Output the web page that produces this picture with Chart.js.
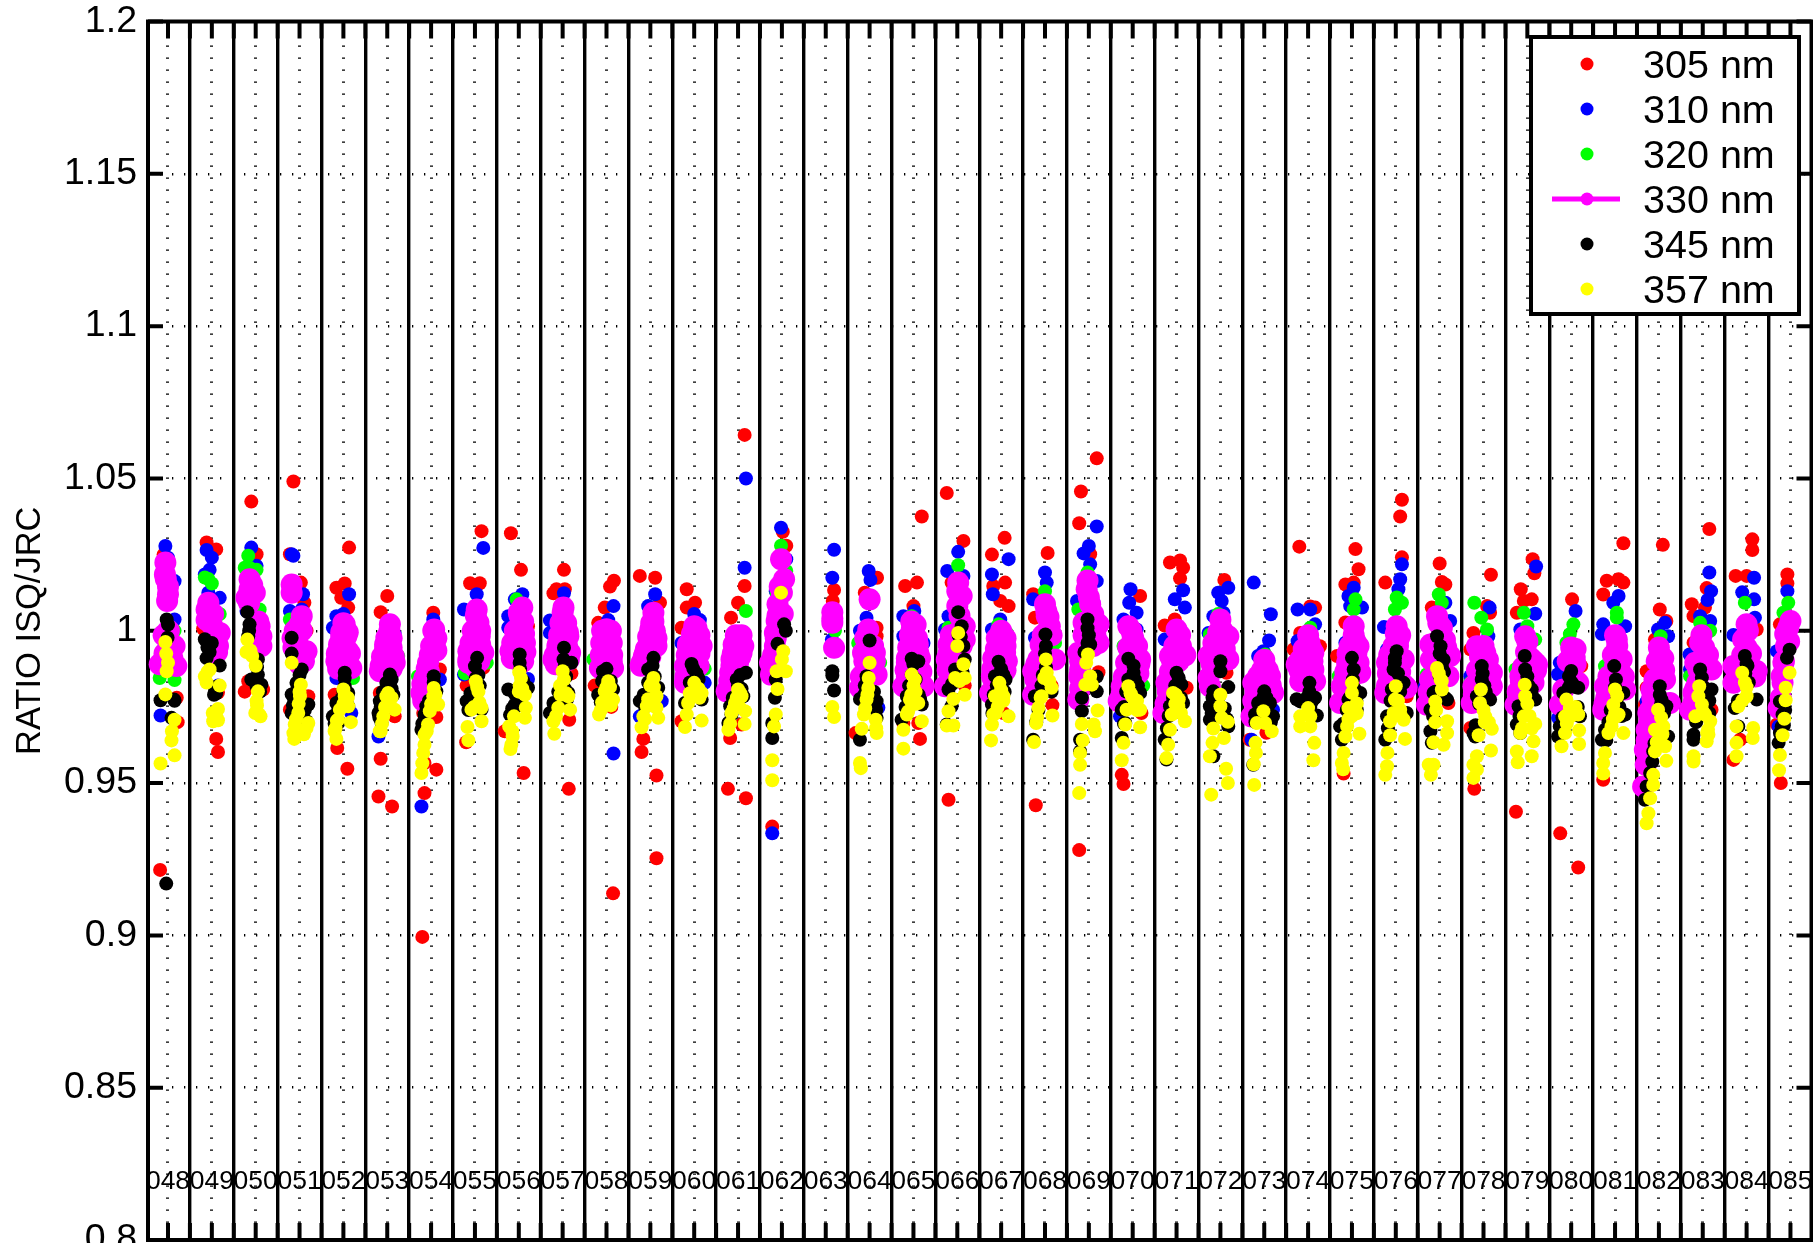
<!DOCTYPE html>
<html>
<head>
<meta charset="utf-8">
<title>RATIO ISQ/JRC</title>
<script src="https://cdn.jsdelivr.net/npm/chart.js@4"></script>
<style>
  html, body { margin: 0; padding: 0; background: #fff; overflow: hidden; }
  canvas { display: block; }
</style>
</head>
<body>
<canvas id="chart" width="1813" height="1243"></canvas>
<script>
// Campaign labels along the x axis
const campaigns = ['048','049','050','051','052','053','054','055','056','057','058','059','060','061','062','063','064','065','066','067','068','069','070','071','072','073','074','075','076','077','078','079','080','081','082','083','084','085'];
const yTicks = [0.8, 0.85, 0.9, 0.95, 1, 1.05, 1.1, 1.15, 1.2];
const seriesLabels = ['305 nm', '310 nm', '320 nm', '330 nm', '345 nm', '357 nm'];

// One row per campaign: campaign number, then pairs of (offset from campaign, ratio)
const v305 = [
  [48, -.18,.9215, .2,.978, .22,.970, -.1,1.025],
  [49, -.12,1.029, .1,1.0267, -.2,1.0007, .1,.9645, .14,.9602, .14,.9797],
  [50, -.1,1.0424, .02,1.0251, -.17,.9834, -.25,.98, .17,.9807],
  [51, -.14,1.049, -.22,1.0251, .03,1.0158, .11,1.0092, .16,1.0, -.22,.9741, .2,.9785],
  [52, .13,1.0273, -.16,1.0141, .03,1.0155, -.05,1.0108, .11,1.0076, -.2,.979, -.14,.9615, .09,.9547],
  [53, 0,1.0114, -.15,1.0061, -.17,.9796, .17,.9719, -.15,.958, -.2,.9456, .11,.9423],
  [54, .05,1.0059, .2,.9873, -.18,.973, .12,.9717, -.15,.9566, .12,.9544, -.15,.9467, -.2,.8995],
  [55, -.11,1.0156, .11,1.0156, .15,1.0327, .19,.9878, -.19,.982, -.2,.9634],
  [56, -.18,1.032, .05,1.02, .21,1.0015, .11,.9533, -.32,.967],
  [57, .03,1.02, -.21,1.0123, .05,1.0136, .14,.9481, .15,.9708, -.14,1.0136, .2,.986],
  [58, .17,1.0164, .08,1.0145, -.04,1.0076, -.19,1.0026, -.27,.982, .11,.975, .15,.9138],
  [59, -.24,1.018, .11,1.0174, .22,1.0092, -.16,.9645, -.2,.9602, .14,.9525, .14,.9253],
  [60, -.17,1.0136, .02,1.0092, -.17,1.0076, -.29,1.001, -.29,.9703],
  [61, .15,1.0643, .15,1.0147, 0,1.0092, -.16,1.0043, -.1,.9988, -.23,.9481, .18,.945, -.18,.9648, .08,.9692],
  [62, .02,1.0325, .1,1.0279, -.22,.9357],
  [63, .19,1.0134, .16,1.0098],
  [64, .17,1.0174, -.11,1.0125, .16,1.001, .16,.9982, -.18,.9873, -.32,.9664],
  [65, -.19,1.0147, .08,1.0158, 0,1.0081, .11,.9697, .15,.9645, -.23,.9697, .19,1.0375],
  [66, -.24,1.0452, .14,1.0295, -.2,.9445, -.13,1.0158, .17,.982],
  [67, .08,1.0305, -.21,1.025, .09,1.0158, -.18,1.0147, -.02,1.0098, .17,1.0081, .05,.973],
  [68, .06,1.0255, -.27,1.012, -.23,1.0043, .15,.982, .17,.9756, -.21,.9427],
  [69, .18,1.0566, -.18,1.0457, -.22,1.0353, .03,1.0251, .22,.9864, -.22,.928],
  [70, .17,1.0114, .2,.973, -.25,.9527, -.21,.9497],
  [71, -.15,1.0224, .08,1.0231, .15,1.0207, .08,1.0172, -.27,1.0017, -.04,1.0037, .23,.9813],
  [72, .09,1.0167, .14,.9862],
  [73, .05,.9665, -.33,.9642],
  [74, -.2,1.0276, .05,1.008, .16,1.0076, -.18,.9993, -.33,.9939, .27,.9949],
  [75, .08,1.0268, .15,1.0202, -.15,1.0152, .04,1.0158, -.15,1.0027, -.34,.9917, -.19,.9531],
  [76, .14,1.043, .1,1.0375, .14,1.0241, -.24,1.0158, .25,.9785],
  [77, 0,1.0221, .05,1.016, .13,1.0152, -.18,1.0076, .2,.9763],
  [78, .17,1.0184, .08,1.0081, .15,1.0059, -.23,.9993, -.3,.9939, -.3,.9681, -.21,.9481],
  [79, .12,1.0235, .16,1.0189, -.15,1.0136, .1,1.0103, -.24,1.0059, -.08,1.0098, -.26,.9406],
  [80, .02,1.0103, .23,.9884, -.25,.9335, .16,.9223],
  [81, .19,1.0287, -.19,1.0164, .08,1.0169, .19,1.0158, -.27,1.0119, -.27,.9511],
  [82, .09,1.0282, .02,1.007, .17,1.0032, -.09,.9971, -.28,.9867, -.28,.9813, -.32,.9757],
  [83, .15,1.0334, .09,1.014, -.25,1.0087, -.21,1.0048, .05,1.0076, -.21,.9961, .2,.9741],
  [84, .13,1.03, .13,1.0265, -.25,1.018, 0,1.018, .23,1.0004, -.3,.9576, -.15,.9642],
  [85, -.07,1.0185, -.07,1.0155, -.24,1.0021, -.31,.9692, -.22,.95]
];
const v310 = [
  [48, -.06,1.0278, 0,1.024, .15,1.0163, .15,1.0037, -.17,.9722],
  [49, -.12,1.0265, 0,1.024, -.05,1.02, -.16,1.0185, .18,1.0108, -.08,1.0125, .14,.982],
  [50, -.1,1.0273, .02,1.0213, -.21,1.0065],
  [51, -.18,1.0251, -.14,1.0246, .08,1.012, .05,1.007, -.22,1.0065],
  [52, .13,1.012, -.16,1.0048, 0,1.0055, -.24,1.001, -.16,.9845, .18,.973],
  [53, -.2,.9653, .17,.9988],
  [54, .05,1.0037, -.22,.9423, .2,.984],
  [55, .19,1.0272, .04,1.012, -.25,1.007, -.25,.9856],
  [56, .08,1.012, -.09,1.0103, -.24,1.0048, -.24,1.001, .21,.9842],
  [57, .03,1.0123, -.29,1.0034, -.29,.9993],
  [58, .16,1.0081, .04,1.0035, .16,.9597],
  [59, .11,1.012, -.05,1.0081, .26,.9769, -.24,.9719],
  [60, 0,1.0055, .13,1.0035, .24,.9829, -.29,.996],
  [61, .18,1.05, .15,1.0207],
  [62, -.02,1.0338, .1,1.0235, -.14,1.013, -.22,.9335],
  [63, .19,1.0266, .15,1.0174, .14,.9971],
  [64, -.02,1.0196, .02,1.0167, -.07,1.0043, -.22,1.0, .2,.9747],
  [65, -.23,1.0048, .02,1.0065, -.23,.9982, .23,.996],
  [66, .02,1.0259, -.23,1.0196, -.2,1.0048, -.28,1.0004, .14,1.018],
  [67, -.21,1.0185, .17,1.0235, -.19,1.012, -.02,1.0037, -.21,1.0004],
  [68, 0,1.0191, .04,1.0158, -.27,1.0103, -.23,.9977],
  [69, .18,1.0342, 0,1.0278, -.12,1.0254, .03,1.0218, .18,1.0163, -.27,1.0098, .11,1.0092],
  [70, -.05,1.0136, -.08,1.0092, .09,1.0059, -.21,1.0037, -.29,.9719, .09,1.0004],
  [71, .15,1.0133, -.04,1.0103, .19,1.0076, -.27,.9971],
  [72, .18,1.0141, -.05,1.0125, .03,1.0098, -.16,1.0048, .07,1.0059, -.27,.9993],
  [73, -.24,1.0158, .15,1.0054, .11,.9968, -.02,.9933, -.14,.9917, -.29,.9642, .2,.9741],
  [74, -.24,1.007, .05,1.007, .16,1.0021, -.24,.9966],
  [75, .04,1.0141, -.04,1.0081, .23,1.0076, -.15,.9961, -.08,1.0114],
  [76, .14,1.0218, .1,1.0169, .06,1.0136, -.27,1.0012, -.2,.9939],
  [77, .13,1.0092, .24,1.0032, -.1,1.0048, -.33,.9818],
  [78, .14,1.0076, .11,.9982, -.3,.9851],
  [79, .2,1.0211, .18,1.0056, -.16,1.0004],
  [80, .1,1.0065, -.26,.9895, -.3,.9857, -.3,.9714],
  [81, .08,1.0114, -.04,1.0092, -.27,1.0021, -.3,.9989, .23,1.0015],
  [82, .14,1.0026, -.02,1.0004, .21,.9982, -.28,.9768],
  [83, .15,1.0191, .19,1.013, .11,1.0101, -.06,1.0048, .17,1.0032, -.3,.9922, -.29,.9873],
  [84, .17,1.0174, -.1,1.0126, .17,1.0103, .19,1.0043, -.3,.9986],
  [85, -.07,1.013, -.31,.9933, -.27,.9686]
];
const v320 = [
  [48, -.19,.9845, .15,.9838, .15,1.0],
  [49, -.08,1.017, 0,1.0155, .18,1.0055, -.16,1.0175],
  [50, -.17,1.0246, -.14,1.0207, -.25,1.0207, .09,1.007, .02,1.02],
  [51, -.22,1.0037, .05,1.0015],
  [52, .22,.9845],
  [53, .25,.9917],
  [54, -.3,.985],
  [55, .27,.9895, -.23,.986],
  [56, -.05,1.0103],
  [58, -.3,.9906],
  [60, .24,.9875],
  [61, .18,1.0065],
  [62, -.02,1.0279, .1,1.0196, -.12,1.0125],
  [63, .21,1.0],
  [64, -.26,.996, .24,.9895],
  [65, -.04,1.0048],
  [66, .02,1.0215, -.2,1.001],
  [67, -.06,1.0021, .13,.9993],
  [68, 0,1.013, .23,.996],
  [69, -.03,1.0191, -.24,1.007, -.27,.9813],
  [70, -.21,.995, .24,.982],
  [72, -.05,1.0055, -.24,.9988],
  [73, .02,.9922],
  [74, .05,1.001],
  [75, .08,1.0103, .04,1.007, -.3,.9851],
  [76, .02,1.0109, -.02,1.007, .14,1.0092],
  [77, -.02,1.0119, .05,1.0092, .2,.9949, -.29,.9857],
  [78, -.21,1.0092, -.05,1.0043, .08,1.0004, -.3,.9829],
  [79, -.08,1.0059, 0,1.0015, .18,.9971, -.27,.9873],
  [80, .05,1.0021, -.03,.9989, -.11,.9961],
  [81, .04,1.0059, .04,1.0043, -.23,.9884],
  [82, .04,.9982, -.32,.9686],
  [83, -.06,1.0026, .17,1.0, -.29,.9851],
  [84, -.04,1.0092, .15,.9933, -.3,.9884],
  [85, -.05,1.0092, -.16,1.0059]
];
const v330 = [
  [48, -.06,1.0224, -.07,1.0185, 0,1.012, -.02,1.0098, 0,1.0, .15,.995, -.19,.989, .19,.9884, .02,.992, -.05,1.017, 0,1.0145, .02,1.0, -.1,.9985, -.08,.9925, .1,.991],
  [49, -.08,1.0092, .03,1.0055, .18,.9993, .14,.995, -.12,1.007, 0,1.002, -.12,1.0035, .1,.9985, .05,.9925, .12,.993],
  [50, -.14,1.0169, -.14,1.0136, -.14,1.0108, -.21,1.0108, -.02,1.0125, .09,1.0015, .13,.995, .13,.9982, -.15,1.009, -.08,1.015, .1,.998, .06,1.003],
  [51, -.18,1.0152, -.18,1.0125, .05,1.0048, -.11,1.0, -.14,.9944, .16,.9933, .05,.9917, 0,1.002, .05,1.0, -.05,.9965, .1,.99, 0,.989, -.16,.9975],
  [52, .03,1.0021, .07,.9982, .03,.9938, -.16,.99, .18,.9878, -.05,.998, 0,1.0025, -.05,.9995, .1,.9995, -.1,.9955, .1,.9935, -.15,.9925, .15,.9925, -.05,.9895, .07,.9895, -.12,.9875, .12,.9875],
  [53, .06,1.0021, -.02,.9977, -.05,.9938, -.09,.9895, .17,.9895, -.17,.9867, -.02,.9917, .05,1.0, .1,.9975, -.05,.9955, .1,.9945, -.12,.9915, .15,.9915, -.15,.9885, .05,.9885, 0,.9945, -.08,.9875, .1,.9875],
  [54, .07,1.0004, .08,.995, -.07,.9895, -.15,.9845, -.22,.9796, -.18,.977, .05,1.0, .12,.9975, 0,.995, .12,.9935, -.03,.992, -.1,.9875, -.2,.9825, -.05,.9865, -.18,.9785],
  [55, .04,1.007, .08,1.0026, .11,.9982, -.15,.9933, .19,.9928, -.15,.9895, .02,1.005, -.05,1.0, .12,1.0, 0,.9975, -.1,.996, .12,.9955, -.15,.9905, .1,.99, 0,.988],
  [56, .08,1.0076, .02,1.0048, .06,1.001, .14,.996, -.19,.9933, .02,.996, -.09,1.0, 0,1.006, .1,1.003, -.05,1.0, .12,.999, -.15,.996, .05,.996, -.12,.9925, .15,.993, -.16,.991, .1,.99, .05,.9895],
  [57, .02,1.0076, .03,1.0026, .13,.9982, -.21,.9906, .17,.9928, -.1,.996, 0,1.006, -.05,1.0025, .08,1.0025, -.08,.9985, .12,.9995, -.12,.995, .1,.995, -.18,.992, 0,.9925, .14,.9905, -.16,.989],
  [58, -.02,.9977, 0,.9938, -.15,.9878, .15,.9878, -.04,.995, -.1,1.0, .1,1.0, 0,1.0005, -.12,.996, .12,.996, -.13,.992, .13,.992, -.1,.988, .12,.99],
  [59, .07,1.0059, 0,1.0004, -.05,.995, -.2,.9895, .14,.995, -.12,.9928, .07,1.003, .02,1.0025, .1,1.0, -.05,.998, .12,.997, -.1,.994, 0,.9915, -.15,.9915, .14,.9975, -.22,.9885],
  [60, 0,1.0015, .05,.9971, .17,.995, -.21,.9884, .02,.9917, -.21,.9829, -.14,.995, -.05,.999, .05,1.001, .12,.9985, -.14,.9955, .12,.9925, -.17,.992, 0,.9885, -.2,.985, .1,.9885],
  [61, 0,.9961, .08,.9928, -.15,.9906, -.18,.9862, -.26,.9801, .05,.995, -.05,.9985, .08,.9985, .12,.995, -.1,.9955, -.12,.9925, .05,.9915, -.15,.9885, -.2,.9835, 0,.9895],
  [62, -.02,1.0235, .05,1.0169, 0,1.0125, -.1,1.0087, -.12,1.0032, -.16,.9993, -.16,.995, -.27,.9895, -.25,.9856, -.05,1.0145, -.1,1.005, -.14,.9975, -.2,.992, -.2,.987, .02,1.0055],
  [63, .15,1.0061, .15,1.0026, .19,.9944, .15,1.004],
  [64, 0,1.0103, -.03,1.0004, -.15,.9928, .12,.9928, .16,.9856, -.22,.9813, -.1,.9975, .08,.995, -.12,.99, .12,.99, .05,.9855, -.2,.985],
  [65, -.04,1.0004, .04,.996, .11,.9928, -.15,.9895, -.23,.9818, .23,.9818, 0,.9895, -.15,.985, -.05,1.003, .05,1.002, -.08,.9985, .08,.9975, -.12,.9945, .1,.9955, -.15,.991, .15,.991, -.18,.987, .18,.9865, -.1,.9845, .12,.985],
  [66, .02,1.0158, .1,1.0114, .17,1.0015, .17,.9971, -.2,.9955, -.24,.9906, -.28,.9818, 0,1.0081, 0,1.013, .05,1.005, .05,1.0, -.2,.9925, -.15,.9985, .1,.995, -.22,.987],
  [67, -.02,.9977, -.06,.9938, .09,.9928, -.21,.9851, -.25,.9796, -.14,.9895, 0,1.0, -.1,.9975, .1,.9975, .1,.995, -.12,.994, -.18,.991, .13,.99, -.2,.9875, .05,.988, .1,.987, -.18,.984, 0,.985],
  [68, 0,1.0087, .11,1.0015, .04,1.0048, -.15,.9906, -.27,.9867, -.27,.979, .23,.9906, .03,1.0065, .08,1.0045, .05,1.0, -.05,.9985, -.1,.9955, .15,.9985, -.2,.989, -.1,.985, -.22,.984],
  [69, -.05,1.0136, .03,1.0087, .22,1.0021, -.12,1.0026, .22,.996, -.24,.9928, -.2,.9873, -.24,.9774, -.03,1.0165, 0,1.011, .1,1.0055, .15,.9985, -.12,.9985, -.2,.99, .1,.995, -.22,.985, -.2,.981],
  [70, -.1,1.0015, 0,.9982, .05,.995, -.02,.9906, -.25,.9818, -.32,.9769, .17,.9906, -.03,1.0, .02,.997, .1,.995, -.1,.9945, -.15,.9895, .15,.989, -.2,.985, -.25,.9795, .13,.986],
  [71, 0,1.0004, .04,.996, .15,.9917, -.15,.9917, -.23,.9829, -.3,.973, -.19,.9774, .08,.9985, -.05,.995, .1,.995, -.1,.99, .05,.99, -.15,.9865, -.2,.98, -.15,.9815, -.25,.976, .2,.992],
  [72, 0,1.0037, .18,.9982, -.16,.996, .18,.9906, -.27,.9917, -.27,.9845, -.24,.9818, 0,.995, .05,1.0, -.05,.9995, .1,.997, -.15,.993, .1,.994, -.2,.989],
  [73, .02,.9884, -.14,.9851, .13,.9851, .2,.9796, -.25,.9829, -.29,.9719, .05,.982, 0,.9905, -.05,.987, .08,.987, -.15,.983, .15,.982, -.05,.9815, -.2,.98, .1,.979, -.25,.977],
  [74, .03,.9961, .12,.9928, -.26,.9889, .12,.9873, -.18,.9834, .16,.9834, 0,.9985, .07,.994, -.1,.994, .05,.9905, -.18,.9905, .1,.99, -.2,.987, .05,.9855],
  [75, .04,1.0015, .15,.9949, .19,.9862, -.11,.9895, -.23,.9818, -.27,.9763, 0,.9917, .04,.9985, .08,.9965, -.05,.995, .1,.9925, -.1,.9925, .15,.9895, -.15,.9865, -.18,.9835, .1,.986],
  [76, .02,1.0015, .06,.9971, -.2,.9895, .18,.9906, -.24,.9796, .25,.9813, -.13,.9873, 0,.999, .1,.9985, -.05,.995, .05,.995, -.15,.992, -.18,.986, -.2,.982, .1,.9865, .2,.982, -.1,.989],
  [77, -.06,1.0048, .05,1.001, -.21,.9955, .24,.9917, .2,.9851, -.29,.9757, -.03,1.0025, .03,.9975, -.1,.996, -.2,.9905, .12,.997, .15,.9945, -.25,.98, -.22,.984],
  [78, .04,.9928, -.15,.9949, .19,.9862, .19,.9818, -.27,.9763, -.23,.9818, 0,.995, .1,.9905, -.08,.9915, .05,.988, -.15,.987, -.2,.982, .15,.9845, -.22,.979],
  [79, -.05,.9982, .22,.9889, -.16,.9851, .14,.9829, -.27,.9757, 0,.9862, 0,.9965, -.03,.993, .08,.991, .15,.99, -.1,.988, -.15,.9835, .2,.987, -.22,.98],
  [80, .01,.9922, .08,.9911, .16,.9829, -.18,.9807, -.26,.9757, 0,.9945, .1,.994, -.08,.99, .1,.989],
  [81, .04,.9971, .15,.9906, .23,.9807, -.23,.9818, -.27,.9741, 0,.9884, 0,.9985, .05,.995, -.05,.992, .1,.987, -.15,.985, .15,.983, -.2,.978, .05,.99, .2,.985, -.24,.976],
  [82, .02,.9922, .06,.9873, .14,.984, -.17,.9807, -.28,.9675, -.32,.9609, -.36,.9489, .25,.9763, -.24,.973, 0,.9945, .1,.991, -.05,.99, -.1,.984, .12,.987, -.15,.978, -.2,.974, -.22,.97, -.28,.964, -.3,.956],
  [83, -.06,.9961, .05,.9933, .2,.9873, -.17,.9895, -.21,.9796, -.29,.9741, -.03,.9985, .03,.9945, .12,.992, -.1,.987, -.12,.983, 0,.99, -.2,.977, -.17,.981],
  [84, 0,1.0021, -.08,.9971, .15,.9873, -.3,.9884, .23,.9868, -.3,.9829, .03,1.0, 0,.9945, .1,.9925, -.1,.992, -.2,.987, -.25,.984, .2,.985],
  [85, 0,1.0032, -.12,.9989, -.2,.9851, -.27,.9746, -.16,.9895, -.05,1.001, -.1,.995, -.15,.99, -.18,.983, -.22,.978, -.03,.9965]
];
const v345 = [
  [48, -.04,.917, -.03,1.0037, 0,1.002, -.01,.9977, -.17,.9772, .14,.9774, .08,.9714, .15,.977],
  [49, -.16,.9972, 0,.996, -.05,.993, .18,.9886, .07,.98, .1,.9795, -.1,.9945, -.12,.991, .08,.9815, .05,.979],
  [50, -.19,1.0061, -.14,1.0021, -.17,.9982, .05,.9906, .05,.9856, .02,.9818, .13,.9823, -.1,.984, -.15,1.0, .03,.988, .05,.983, .1,.98],
  [51, -.18,.9977, -.18,.9925, .05,.9873, -.07,.9829, -.18,.9791, .2,.9758, -.18,.973, .16,.9703, 0,.9855, -.05,.981, -.12,.977, .12,.974, -.15,.9755],
  [52, .03,.9862, .03,.9818, .11,.9796, .11,.9752, -.16,.9763, -.24,.9719, -.12,.9697, .03,.9845, .05,.978, -.05,.9775, -.12,.974, -.2,.9695, 0,.98],
  [53, .06,.9856, -.02,.9829, .14,.979, -.17,.9769, -.2,.973, -.13,.9697, .1,.984, .05,.983, .1,.981, -.1,.98, -.12,.977, -.15,.975, -.18,.9715],
  [54, .06,.9851, .12,.9801, -.11,.9752, -.22,.9675, -.15,.9708, .06,.983, .08,.977, -.05,.977, -.15,.9725, -.2,.9695, 0,.9755],
  [55, .05,.9911, 0,.9884, .11,.982, -.19,.9769, .15,.9741, .08,.9855, .02,.9845, -.1,.9795, -.15,.974, .05,.98],
  [56, .02,.9922, .02,.9895, .21,.9813, -.24,.9807, -.09,.9758, -.2,.9724, .1,.982, .03,.9875, .1,.9835, -.1,.9795, -.15,.9745, 0,.9755],
  [57, .03,.9944, .02,.9906, .13,.9796, -.21,.9763, -.29,.973, .2,.9895, .05,.9885, .08,.985, -.1,.98, -.15,.9745, .1,.9775, .05,.981],
  [58, -.08,.9867, .15,.9807, -.19,.979, .08,.9829, 0,.9875, .1,.9835, -.1,.9835, .05,.9805, -.13,.9765],
  [59, .07,.9911, -.05,.9873, .18,.9813, -.24,.9769, -.08,.9785, .05,.9885, .1,.985, -.05,.983, -.15,.979, -.12,.975, .1,.9795],
  [60, -.06,.9891, .09,.9845, .17,.9774, -.21,.9763, 0,.982, -.02,.9875, .05,.986, .1,.984, -.1,.983, .1,.9805, -.15,.9765],
  [61, .18,.9862, -.03,.984, -.18,.9752, -.22,.9697, .12,.9785, .05,.9855, 0,.982, -.12,.978, -.15,.9725, .08,.981],
  [62, .05,1.0021, .09,1.0, -.1,.9957, -.14,.984, -.16,.978, -.22,.9697, -.22,.9648],
  [63, .15,.9867, .15,.9853, .19,.9804],
  [64, 0,.9968, -.07,.9851, -.11,.982, .16,.9769, -.22,.9776, .16,.9714, -.22,.9642, -.05,.984, -.12,.979, .1,.98, .15,.974],
  [65, -.04,.9908, .11,.99, -.04,.9856, .19,.9758, -.27,.9708, -.15,.9785, 0,.989, .05,.984, .12,.979, -.1,.982, -.18,.975, .15,.9775],
  [66, .02,1.0061, .1,1.0015, .14,.995, -.05,.9873, -.2,.9807, .17,.9906, -.24,.9692, -.13,.9752, .03,.9985, .08,.998, -.05,.984, -.12,.9825, .12,.9865],
  [67, -.06,.9898, -.14,.9851, -.21,.9758, .05,.9856, 0,.9875, .1,.984, .08,.98, -.1,.982, -.17,.979, -.2,.973, -.1,.977],
  [68, .01,.9988, .02,.995, -.08,.982, -.23,.9785, .15,.98, -.27,.9642, 0,.9925, .02,.988, 0,.984, -.05,.9855, -.15,.974, -.2,.97],
  [69, -.03,1.0037, -.03,1.0008, .03,.9955, -.16,.978, .18,.9801, -.16,.9736, -.2,.9642, -.2,.9604, 0,.9985, -.03,.996, -.1,.993, .18,.985],
  [70, -.1,.9908, .02,.9862, .17,.9796, -.25,.9741, -.25,.9648, -.17,.9697, .02,.9885, .05,.984, .12,.982, -.1,.984, -.15,.98, -.2,.975, -.2,.9695],
  [71, 0,.9862, .11,.9823, .15,.9763, -.15,.9752, -.27,.9642, -.23,.9577, .05,.9845, -.03,.982, -.08,.978, .1,.978, -.18,.972, -.22,.968],
  [72, 0,.99, 0,.9867, .18,.9815, -.16,.9801, -.24,.9752, -.24,.9708, .18,.9686, -.16,.9588, -.03,.9785, -.18,.978, -.2,.973, .15,.971, -.1,.972, .1,.9745],
  [73, 0,.9801, -.14,.9763, .13,.9763, -.21,.9725, -.25,.956, .2,.9719, .05,.978, -.02,.978, .08,.975, -.12,.974, -.17,.972, -.2,.97, .15,.97],
  [74, .03,.9829, -.18,.9768, .2,.9722, .16,.978, -.26,.9775, .03,.98, -.03,.978, .1,.977, -.1,.977, .05,.975],
  [75, 0,.9911, .04,.9873, .19,.9796, -.27,.9686, -.23,.9642, -.08,.9774, .11,.9741, .02,.984, .06,.981, .1,.977, -.05,.978, -.12,.974, -.2,.9695],
  [76, .02,.9933, -.02,.9895, -.05,.9873, .18,.9829, -.09,.9807, -.2,.9719, -.24,.9642, .25,.973, -.02,.991, .05,.986, .12,.983, .1,.98, -.12,.977, -.18,.968],
  [77, -.06,.9982, .02,.9949, .09,.9905, -.14,.9796, .17,.9774, -.21,.967, -.18,.9632, -.21,.9741, 0,.9925, .05,.988, .1,.9865, 0,.985, .12,.978, -.15,.972, -.1,.98],
  [78, -.04,.9884, -.04,.984, .15,.9774, -.15,.9785, -.19,.9653, -.23,.9664, -.02,.986, .02,.982, .05,.98, .1,.978, -.1,.976, -.18,.969],
  [79, -.06,.9917, -.05,.9873, .18,.9774, -.24,.9692, .1,.9807, -.2,.9752, -.16,.9664, 0,.985, .03,.982, .1,.979, -.1,.975, -.18,.972, 0,.978],
  [80, 0,.9868, .01,.983, .16,.9813, -.26,.9686, -.3,.9653, -.18,.9796, .2,.9719, -.05,.985, .1,.9815, -.05,.9815, .15,.975, -.2,.9715],
  [81, -.02,.9884, .02,.984, .19,.9796, -.23,.9675, -.3,.9642, .23,.9725, 0,.9815, .05,.978, .1,.975, -.1,.974, -.15,.97, .15,.972, -.2,.964],
  [82, .02,.9818, .06,.9774, .17,.9752, -.13,.9604, -.2,.9533, -.28,.9489, -.32,.9445, .21,.9653, .02,.979, .05,.976, .12,.973, -.1,.963, -.15,.957],
  [83, -.06,.9873, -.02,.9846, .2,.9807, -.21,.9659, -.14,.9708, -.21,.9642, .02,.9815, .1,.98, .15,.977, .15,.973, -.15,.97],
  [84, -.04,.9917, 0,.989, .23,.9774, -.27,.9746, -.19,.9686, .02,.9885, -.03,.986, .05,.983, -.2,.977],
  [85, -.02,.9938, -.08,.9911, -.24,.9768, -.18,.9725, -.24,.9664, -.27,.9632, -.12,.974, -.15,.969, -.2,.9685]
];
const v357 = [
  [48, -.06,.9963, -.04,.9925, 0,.9895, -.03,.9867, -.06,.9791, .15,.9708, .09,.967, .08,.964, .15,.9591, -.17,.9564],
  [49, -.05,.9873, -.16,.985, .18,.982, .14,.9743, .03,.9703, .14,.9706, -.1,.9865, -.12,.983, .02,.973, .1,.972],
  [50, -.19,.9971, -.21,.993, -.08,.9917, .05,.9801, .02,.9769, -.01,.973, .11,.9719, -.12,.9935, 0,.9885, .03,.9755, .08,.9725],
  [51, -.18,.9895, .03,.9823, .01,.9785, -.03,.973, -.11,.9692, -.14,.9664, -.12,.9645, .16,.9681, .2,.9697, 0,.98, -.02,.976, -.08,.971, .1,.966],
  [52, 0,.9807, .07,.9774, .11,.9752, -.08,.9741, .17,.97, -.2,.967, -.16,.9645, -.12,.9708, .03,.9785, .1,.978, 0,.976, -.15,.9705, -.18,.968],
  [53, .02,.9796, .17,.9741, -.09,.9719, -.17,.967, -.02,.9785, .05,.9775, .1,.978, -.12,.9695, -.15,.967, -.05,.975],
  [54, .06,.9812, .16,.9758, -.03,.9736, -.07,.9692, -.15,.9659, -.15,.9626, -.18,.9599, -.22,.9533, .05,.9785, .1,.979, 0,.976, -.1,.967, -.2,.9565],
  [55, .02,.9834, .08,.98, -.08,.9741, .15,.9747, .15,.9703, -.17,.9684, -.15,.964, .05,.9815, .1,.9765, -.02,.975],
  [56, .01,.9864, .02,.982, .14,.979, .16,.9747, .14,.9714, -.11,.9719, -.22,.9686, -.14,.9653, -.17,.9626, -.19,.9612, .05,.9845, .08,.981, -.15,.967, 0,.98],
  [57, 0,.9867, -.06,.982, .13,.9785, -.1,.9747, .17,.9741, -.21,.9703, -.19,.9662, .03,.984, .08,.9795, -.05,.979, -.15,.972],
  [58, .04,.9834, -.04,.9801, .15,.9774, -.17,.9725, -.08,.9752, .08,.9815, 0,.9815, -.1,.9765, .1,.9755, -.13,.974],
  [59, .07,.9845, 0,.982, .14,.9785, -.08,.9752, .14,.9747, .18,.9714, -.16,.9719, -.2,.9683, .03,.9825, .08,.9815, -.05,.9775, -.12,.971],
  [60, 0,.9829, .17,.9796, -.14,.9763, -.17,.9725, -.21,.9684, .17,.9705, .05,.98, .05,.981, .1,.981, .12,.978, -.1,.9795],
  [61, 0,.9807, -.07,.9763, -.15,.973, -.22,.9675, .16,.9736, .15,.9694, .08,.9785, .05,.9795, -.03,.978, -.1,.9745, -.18,.9695, .03,.975],
  [62, -.02,1.0125, .03,.9933, 0,.9906, -.12,.9867, .09,.9867, -.1,.9809, -.14,.9725, -.18,.9686, -.22,.9575, -.22,.9509],
  [63, .15,.975, .19,.9717],
  [64, 0,.9895, -.03,.9812, -.07,.9774, -.13,.9725, .14,.9708, .16,.9664, -.18,.9678, -.22,.9566, -.2,.9549, -.02,.9845, -.05,.979, -.1,.9745, .15,.968],
  [65, -.04,.9856, 0,.982, -.08,.9774, .11,.9763, -.15,.9725, .19,.9703, -.23,.9675, -.23,.9613, 0,.979, .03,.984, .05,.98, -.05,.979, .05,.976, -.12,.9735],
  [66, .02,.9993, 0,.995, .14,.989, -.05,.9845, .17,.9845, .17,.979, -.09,.9776, -.2,.9736, -.24,.9689, -.09,.9689, .05,.9835],
  [67, -.04,.9829, -.14,.9785, .05,.9785, .17,.9719, -.18,.9725, -.21,.9692, -.23,.964, 0,.9805, -.08,.975, .05,.977, -.12,.973],
  [68, .02,.9906, .04,.9862, .15,.9813, -.08,.9785, -.15,.9747, .17,.9722, -.2,.9697, -.25,.9635, .1,.9835, -.02,.9845, -.1,.978, -.18,.9715],
  [69, -.02,.9922, -.06,.9895, .03,.9851, -.08,.9823, .07,.9823, .2,.9738, -.16,.9694, .11,.9692, .14,.967, -.14,.964, -.2,.9599, -.2,.956, -.22,.9467],
  [70, -.1,.9818, -.02,.9785, .17,.9741, -.14,.9741, -.17,.9692, .17,.9683, -.21,.9632, -.25,.9575, .05,.9763, -.05,.9795, .1,.977, .1,.974, .02,.975],
  [71, -.02,.979, .04,.9752, .19,.9703, -.11,.9725, -.15,.9675, -.19,.9626, -.23,.9582, -.08,.9796, .05,.9775, .1,.973, -.03,.976],
  [72, 0,.979, 0,.9752, .03,.9714, .17,.9701, -.16,.9679, .08,.9648, -.18,.9632, -.24,.9588, .13,.9547, .17,.95, -.21,.9462],
  [73, -.02,.9736, -.17,.9697, .17,.967, -.2,.9632, -.19,.9599, -.24,.9562, -.23,.9494, .02,.9697],
  [74, 0,.9746, -.18,.9719, .05,.9719, -.18,.9686, .05,.9686, .14,.9632, .12,.9575],
  [75, 0,.9829, 0,.9796, -.08,.9746, .11,.9761, .11,.9729, -.11,.9686, -.15,.9653, .17,.9662, -.19,.9599, -.23,.9566, -.2,.9545, .05,.9745, 0,.972, -.08,.971],
  [76, 0,.9818, -.02,.9774, .1,.9741, -.13,.9703, .18,.9708, -.13,.9657, .21,.9645, -.19,.9599, -.2,.9555, -.24,.9527, .05,.977, .12,.972, -.05,.973],
  [77, -.06,.9878, .02,.984, .05,.9807, -.1,.9768, -.1,.97, .17,.9703, .17,.9664, -.14,.9634, .09,.9626, -.25,.956, -.14,.956, -.2,.9527, -.02,.986, .05,.9835, -.08,.974],
  [78, -.06,.9807, -.08,.9763, .04,.9719, .19,.9678, -.11,.9657, -.15,.9588, .17,.9607, -.23,.956, -.15,.9544, -.23,.9517, 0,.974, .03,.97, .12,.97],
  [79, -.06,.9823, -.05,.9785, -.08,.9719, .18,.9694, -.16,.9664, .14,.9637, -.24,.9604, .1,.9588, -.22,.9568, 0,.976, .05,.972, -.12,.968, .1,.968],
  [80, -.11,.9774, -.03,.9746, .16,.9725, -.14,.9719, -.14,.9664, .18,.9673, -.22,.9621, .18,.9628, 0,.972, .1,.975, -.1,.9695],
  [81, 0,.9807, -.04,.9757, .08,.9725, .19,.9664, -.15,.9664, -.23,.9599, -.27,.9566, -.27,.9531, -.08,.9686, .05,.9785, 0,.973, .05,.972, -.05,.971],
  [82, -.02,.9741, -.09,.9675, .1,.9686, .14,.9621, -.09,.9604, .17,.9573, -.13,.9527, -.13,.9494, -.2,.945, -.24,.9401, -.28,.9368, .05,.9715, .08,.966, -.05,.9635],
  [83, -.08,.9818, -.1,.9785, -.02,.9758, .17,.9703, -.17,.9719, .13,.9659, .09,.9637, -.21,.9588, -.21,.9571, .05,.9725, 0,.9735, .12,.9675, .1,.9665],
  [84, -.1,.9862, -.04,.983, 0,.9785, -.19,.9752, .15,.9681, -.23,.9686, .14,.9648, -.23,.9632, -.23,.9588, 0,.9815, -.1,.977],
  [85, -.02,.9862, -.11,.9813, -.11,.9772, -.14,.9711, -.18,.9657, -.24,.9592, -.26,.9542]
];

// Turn the rows into points for the scatter chart
function toPoints(rows) {
  const points = [];
  rows.forEach(function (row) {
    for (let i = 1; i < row.length; i += 2) {
      points.push({ x: row[0] + row[i], y: row[i + 1] });
    }
  });
  return points;
}

const allSeries = [v305, v310, v320, v330, v345, v357];
const colors = ['#ff0000', '#0000ff', '#00ff00', '#ff00ff', '#000000', '#ffff00'];
const radii = [7, 7, 7, 11, 7, 7];
const fontName = '"Liberation Sans", Arial, sans-serif';

// Ticks stick inward from all four sides, like the plotting program does
const frameTicks = {
  id: 'frameTicks',
  beforeDatasetsDraw(chart) {
    const ctx = chart.ctx, a = chart.chartArea;
    ctx.save();
    ctx.strokeStyle = '#000';
    ctx.lineWidth = 4;
    ctx.beginPath();
    chart.scales.x.ticks.forEach(function (t) {
      const px = chart.scales.x.getPixelForValue(t.value);
      ctx.moveTo(px, a.top); ctx.lineTo(px, a.top + 17);
      ctx.moveTo(px, a.bottom); ctx.lineTo(px, a.bottom - 17);
    });
    chart.scales.y.ticks.forEach(function (t) {
      const py = chart.scales.y.getPixelForValue(t.value);
      ctx.moveTo(a.left, py); ctx.lineTo(a.left + 15, py);
      ctx.moveTo(a.right, py); ctx.lineTo(a.right - 15, py);
    });
    ctx.stroke();
    ctx.strokeRect(a.left, a.top, a.right - a.left, a.bottom - a.top);
    ctx.restore();
  }
};

// Legend box in the top right corner of the plot
const legendBox = {
  id: 'legendBox',
  afterDraw(chart) {
    const ctx = chart.ctx;
    ctx.save();
    ctx.fillStyle = '#fff';
    ctx.strokeStyle = '#000';
    ctx.lineWidth = 4;
    ctx.fillRect(1531, 37, 268, 277);
    ctx.strokeRect(1531, 37, 268, 277);
    ctx.textBaseline = 'middle';
    ctx.font = '39.5px ' + fontName;
    seriesLabels.forEach(function (label, i) {
      const y = 64 + i * 45;
      if (i === 3) {
        ctx.strokeStyle = colors[i];
        ctx.lineWidth = 5;
        ctx.beginPath();
        ctx.moveTo(1552, y);
        ctx.lineTo(1620, y);
        ctx.stroke();
      }
      ctx.fillStyle = colors[i];
      ctx.beginPath();
      ctx.arc(1587, y, 6.5, 0, Math.PI * 2);
      ctx.fill();
      ctx.fillStyle = '#000';
      ctx.fillText(label, 1643, y + 3);
    });
    ctx.restore();
  }
};

// The axes take no room of their own: the plot area is fixed by the layout padding
function noPadding() {
  return { left: 0, top: 0, right: 0, bottom: 0 };
}

const ctx = document.getElementById('chart').getContext('2d');
const chart = new Chart(ctx, {
  type: 'scatter',
  data: {
    datasets: allSeries.map(function (rows, i) {
      return {
        label: seriesLabels[i],
        data: toPoints(rows),
        order: allSeries.length - i,
        backgroundColor: colors[i],
        borderWidth: 0,
        pointRadius: radii[i],
        pointHoverRadius: radii[i]
      };
    })
  },
  plugins: [frameTicks, legendBox],
  options: {
    responsive: false,
    animation: false,
    layout: { autoPadding: false, padding: { left: 0, right: 1.5, top: 21.5, bottom: 3 } },
    plugins: { legend: { display: false }, tooltip: { enabled: false } },
    scales: {
      x: {
        type: 'linear',
        min: 47.544,
        max: 85.48,
        afterBuildTicks(scale) {
          // one tick in each campaign and one on each boundary
          const list = [];
          campaigns.forEach(function (c) {
            list.push({ value: Number(c) });
            list.push({ value: Number(c) + 0.5 });
          });
          scale.ticks = list.filter(function (t) { return t.value <= scale.max; });
        },
        afterFit(scale) {
          scale.height = 0;
          scale.getPadding = noPadding;
        },
        grid: {
          drawTicks: false,
          color: '#000',
          lineWidth(c) { return Number.isInteger(c.tick.value) ? 3 : 3.4; }
        },
        border: {
          display: false,
          dash(c) { return Number.isInteger(c.tick.value) ? [1.3, 10.7] : []; }
        },
        ticks: {
          autoSkip: false,
          maxRotation: 0,
          mirror: true,
          padding: 42,
          color: '#000',
          font: { family: fontName, size: 26.5 },
          callback(value) {
            return Number.isInteger(value) ? campaigns[value - 48] : '';
          }
        }
      },
      y: {
        type: 'linear',
        min: 0.8,
        max: 1.2,
        afterBuildTicks(scale) {
          scale.ticks = yTicks.map(function (v) { return { value: v }; });
        },
        afterFit(scale) {
          scale.width = 148;
          scale.getPadding = noPadding;
        },
        grid: { drawTicks: false, color: '#000', lineWidth: 2.4 },
        border: { display: false, dash: [1.3, 10.7] },
        title: {
          display: true,
          text: 'RATIO ISQ/JRC',
          color: '#000',
          font: { family: fontName, size: 34.5 },
          padding: { top: 10, bottom: 0 }
        },
        ticks: {
          padding: 11,
          color: '#000',
          font: { family: fontName, size: 37.5 },
          callback(value) { return String(value); }
        }
      }
    }
  }
});
</script>
</body>
</html>
